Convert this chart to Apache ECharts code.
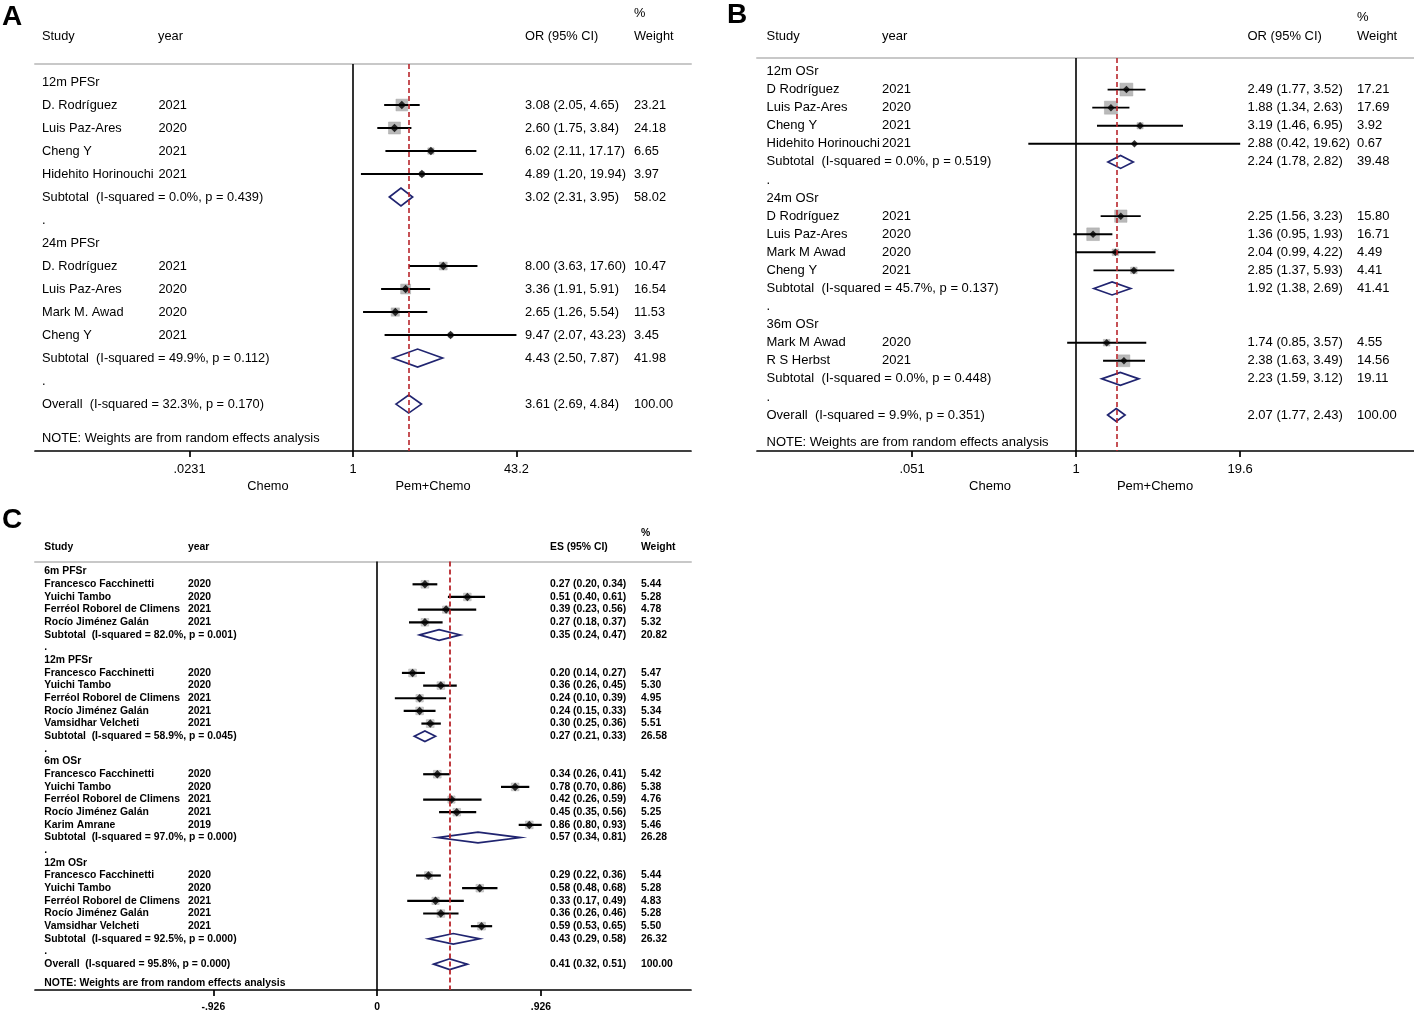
<!DOCTYPE html>
<html>
<head>
<meta charset="utf-8">
<title>Forest plots</title>
<script src="https://cdn.jsdelivr.net/npm/echarts@6.0.0/dist/echarts.min.js"></script>
<style>
  html, body { margin: 0; padding: 0; background: #fff; }
  #chart { width: 1414px; height: 1010px; }
</style>
</head>
<body>
<div id="chart"></div>
<script>
// ---------- panel A : PFS rate, OR ----------
var aGroups = ['12m PFSr', '24m PFSr'];
var aStudy = [['D. Rodríguez', 'Luis Paz-Ares', 'Cheng Y', 'Hidehito Horinouchi'],
              ['D. Rodríguez', 'Luis Paz-Ares', 'Mark M. Awad', 'Cheng Y']];
var aYear = [[2021, 2020, 2021, 2021], [2021, 2020, 2020, 2021]];
var aEst = [[3.08, 2.60, 6.02, 4.89], [8.00, 3.36, 2.65, 9.47]];
var aLow = [[2.05, 1.75, 2.11, 1.20], [3.63, 1.91, 1.26, 2.07]];
var aHigh = [[4.65, 3.84, 17.17, 19.94], [17.60, 5.91, 5.54, 43.23]];
var aWeight = [[23.21, 24.18, 6.65, 3.97], [10.47, 16.54, 11.53, 3.45]];
var aSubEst = [3.02, 4.43];
var aSubLow = [2.31, 2.50];
var aSubHigh = [3.95, 7.87];
var aSubWeight = [58.02, 41.98];
var aSubI2 = ['0.0%', '49.9%'];
var aSubP = ['0.439', '0.112'];
var aOverall = [3.61, 2.69, 4.84];
var aOverallHet = ['32.3%', '0.170'];
var aTicks = [0.0231, 1, 43.2];
var aTickLabels = ['.0231', '1', '43.2'];

// ---------- panel B : OS rate, OR ----------
var bGroups = ['12m OSr', '24m OSr', '36m OSr'];
var bStudy = [['D Rodríguez', 'Luis Paz-Ares', 'Cheng Y', 'Hidehito Horinouchi'],
              ['D Rodríguez', 'Luis Paz-Ares', 'Mark M Awad', 'Cheng Y'],
              ['Mark M Awad', 'R S Herbst']];
var bYear = [[2021, 2020, 2021, 2021], [2021, 2020, 2020, 2021], [2020, 2021]];
var bEst = [[2.49, 1.88, 3.19, 2.88], [2.25, 1.36, 2.04, 2.85], [1.74, 2.38]];
var bLow = [[1.77, 1.34, 1.46, 0.42], [1.56, 0.95, 0.99, 1.37], [0.85, 1.63]];
var bHigh = [[3.52, 2.63, 6.95, 19.62], [3.23, 1.93, 4.22, 5.93], [3.57, 3.49]];
var bWeight = [[17.21, 17.69, 3.92, 0.67], [15.80, 16.71, 4.49, 4.41], [4.55, 14.56]];
var bSubEst = [2.24, 1.92, 2.23];
var bSubLow = [1.78, 1.38, 1.59];
var bSubHigh = [2.82, 2.69, 3.12];
var bSubWeight = [39.48, 41.41, 19.11];
var bSubI2 = ['0.0%', '45.7%', '0.0%'];
var bSubP = ['0.519', '0.137', '0.448'];
var bOverall = [2.07, 1.77, 2.43];
var bOverallHet = ['9.9%', '0.351'];
var bTicks = [0.051, 1, 19.6];
var bTickLabels = ['.051', '1', '19.6'];

// ---------- panel C : single-arm rates, ES ----------
var cGroups = ['6m PFSr', '12m PFSr', '6m OSr', '12m OSr'];
var cStudy = [['Francesco Facchinetti', 'Yuichi Tambo', 'Ferréol Roborel de Climens', 'Rocío Jiménez Galán'],
              ['Francesco Facchinetti', 'Yuichi Tambo', 'Ferréol Roborel de Climens', 'Rocío Jiménez Galán', 'Vamsidhar Velcheti'],
              ['Francesco Facchinetti', 'Yuichi Tambo', 'Ferréol Roborel de Climens', 'Rocío Jiménez Galán', 'Karim Amrane'],
              ['Francesco Facchinetti', 'Yuichi Tambo', 'Ferréol Roborel de Climens', 'Rocío Jiménez Galán', 'Vamsidhar Velcheti']];
var cYear = [[2020, 2020, 2021, 2021], [2020, 2020, 2021, 2021, 2021],
             [2020, 2020, 2021, 2021, 2019], [2020, 2020, 2021, 2021, 2021]];
var cEst = [[0.27, 0.51, 0.39, 0.27], [0.20, 0.36, 0.24, 0.24, 0.30],
            [0.34, 0.78, 0.42, 0.45, 0.86], [0.29, 0.58, 0.33, 0.36, 0.59]];
var cLow = [[0.20, 0.40, 0.23, 0.18], [0.14, 0.26, 0.10, 0.15, 0.25],
            [0.26, 0.70, 0.26, 0.35, 0.80], [0.22, 0.48, 0.17, 0.26, 0.53]];
var cHigh = [[0.34, 0.61, 0.56, 0.37], [0.27, 0.45, 0.39, 0.33, 0.36],
             [0.41, 0.86, 0.59, 0.56, 0.93], [0.36, 0.68, 0.49, 0.46, 0.65]];
var cWeight = [[5.44, 5.28, 4.78, 5.32], [5.47, 5.30, 4.95, 5.34, 5.51],
               [5.42, 5.38, 4.76, 5.25, 5.46], [5.44, 5.28, 4.83, 5.28, 5.50]];
var cSubEst = [0.35, 0.27, 0.57, 0.43];
var cSubLow = [0.24, 0.21, 0.34, 0.29];
var cSubHigh = [0.47, 0.33, 0.81, 0.58];
var cSubWeight = [20.82, 26.58, 26.28, 26.32];
var cSubI2 = ['82.0%', '58.9%', '97.0%', '92.5%'];
var cSubP = ['0.001', '0.045', '0.000', '0.000'];
var cOverall = [0.41, 0.32, 0.51];
var cOverallHet = ['95.8%', '0.000'];
var cTicks = [-0.926, 0, 0.926];
var cTickLabels = ['-.926', '0', '.926'];

var FONT = "'Liberation Sans', Arial, Helvetica, sans-serif";
var NAVY = '#202470';
var RED = '#b8262c';

var panels = [
    {
        groups: aGroups, study: aStudy, year: aYear, est: aEst, low: aLow, high: aHigh, weight: aWeight,
        subEst: aSubEst, subLow: aSubLow, subHigh: aSubHigh, subWeight: aSubWeight, subI2: aSubI2, subP: aSubP,
        overall: aOverall, overallHet: aOverallHet, ticks: aTicks, tickLabels: aTickLabels,
        log: true, nullValue: 1,
        grid: {left: 35, top: 64, width: 656, height: 387},
        xRange: [-7.33, 7.79], yRange: [-0.783, 16.04],
        cols: [7, 123.5, 490, 599],
        font: 12.8, fontWeight: 'normal', box: 2.44, boxColor: '#b9b9b9', point: 8.5, ci: 1.9,
        diamond: 18, tickMargin: 12, ref: 1.6
    },
    {
        groups: bGroups, study: bStudy, year: bYear, est: bEst, low: bLow, high: bHigh, weight: bWeight,
        subEst: bSubEst, subLow: bSubLow, subHigh: bSubHigh, subWeight: bSubWeight, subI2: bSubI2, subP: bSubP,
        overall: bOverall, overallHet: bOverallHet, ticks: bTicks, tickLabels: bTickLabels,
        log: true, nullValue: 1,
        grid: {left: 757, top: 58, width: 657, height: 393},
        xRange: [-5.79, 6.13], yRange: [-0.747, 20.99],
        cols: [9.5, 125, 490.5, 600],
        font: 13, fontWeight: 'normal', box: 3.1, boxColor: '#b9b9b9', point: 7.5, ci: 1.9,
        diamond: 13, tickMargin: 12, ref: 1.6
    },
    {
        groups: cGroups, study: cStudy, year: cYear, est: cEst, low: cLow, high: cHigh, weight: cWeight,
        subEst: cSubEst, subLow: cSubLow, subHigh: cSubHigh, subWeight: cSubWeight, subI2: cSubI2, subP: cSubP,
        overall: cOverall, overallHet: cOverallHet, ticks: cTicks, tickLabels: cTickLabels,
        log: false, nullValue: 0,
        grid: {left: 35, top: 561.5, width: 656, height: 428.5},
        xRange: [-1.934, 1.774], yRange: [-0.80, 33.04],
        cols: [9.3, 153, 515, 606],
        font: 10.4, fontWeight: 'bold', box: 3.3, boxColor: '#d2d2d2', point: 8.5, ci: 2.2,
        diamond: 10.7, tickMargin: 12, ref: 1.8
    }
];

function buildRows(d) {
    var rows = [], y = 0;
    for (var g = 0; g < d.groups.length; g++) {
        rows.push({y: y++, kind: 'group', label: d.groups[g]});
        for (var i = 0; i < d.study[g].length; i++) {
            rows.push({y: y++, kind: 'study', label: d.study[g][i], year: d.year[g][i],
                est: d.est[g][i], low: d.low[g][i], high: d.high[g][i], w: d.weight[g][i]});
        }
        rows.push({y: y++, kind: 'sub', label: 'Subtotal  (I-squared = ' + d.subI2[g] + ', p = ' + d.subP[g] + ')',
            est: d.subEst[g], low: d.subLow[g], high: d.subHigh[g], w: d.subWeight[g]});
        rows.push({y: y++, kind: 'dot', label: '.'});
    }
    rows.push({y: y++, kind: 'sub', label: 'Overall  (I-squared = ' + d.overallHet[0] + ', p = ' + d.overallHet[1] + ')',
        est: d.overall[0], low: d.overall[1], high: d.overall[2], w: 100});
    rows.push({y: y + 0.5, kind: 'note', label: 'NOTE: Weights are from random effects analysis'});
    return rows;
}

function ciText(r) {
    return r.est.toFixed(2) + ' (' + r.low.toFixed(2) + ', ' + r.high.toFixed(2) + ')';
}

var grids = [], xAxes = [], yAxes = [], series = [];

panels.forEach(function (p, k) {
    var tf = p.log ? Math.log : function (v) { return v; };
    var rows = buildRows(p);
    var studies = rows.filter(function (r) { return r.kind === 'study'; });
    var pooled = rows.filter(function (r) { return r.kind === 'sub'; });
    var ticksT = p.ticks.map(tf);

    grids.push({left: p.grid.left, top: p.grid.top, width: p.grid.width, height: p.grid.height,
        containLabel: false, outerBoundsMode: 'none'});

    // bottom scale axis
    xAxes.push({
        gridIndex: k, type: 'value', position: 'bottom', min: p.xRange[0], max: p.xRange[1],
        axisLine: {show: true, onZero: false, lineStyle: {color: '#000', width: 1.7}},
        axisTick: {show: true, length: 6, customValues: ticksT, lineStyle: {color: '#000', width: 1.7}},
        axisLabel: {
            show: true, customValues: ticksT, margin: p.tickMargin, color: '#000',
            fontSize: p.font, fontFamily: FONT, fontWeight: p.fontWeight,
            formatter: function (v) {
                var best = 0;
                for (var i = 1; i < ticksT.length; i++) {
                    if (Math.abs(ticksT[i] - v) < Math.abs(ticksT[best] - v)) best = i;
                }
                return p.tickLabels[best];
            }
        },
        splitLine: {show: false}
    });
    // grey rule under the header
    xAxes.push({
        gridIndex: k, type: 'value', position: 'top', min: p.xRange[0], max: p.xRange[1],
        axisLine: {show: true, onZero: false, lineStyle: {color: '#c8c8c8', width: 2}},
        axisTick: {show: false}, axisLabel: {show: false}, splitLine: {show: false}
    });
    yAxes.push({gridIndex: k, type: 'value', inverse: true, min: p.yRange[0], max: p.yRange[1], show: false});

    var xi = 2 * k;

    // text columns
    series.push({
        type: 'custom', xAxisIndex: xi, yAxisIndex: k, silent: true, z: 6,
        data: rows.map(function (r) { return [0, r.y]; }),
        renderItem: function (params, api) {
            var r = rows[params.dataIndex];
            var cs = params.coordSys;
            var yy = api.coord([0, r.y])[1];
            var kids = [];
            function add(col, s) {
                kids.push({type: 'text', x: cs.x + p.cols[col], y: yy,
                    style: {text: s, fill: '#000', fontSize: p.font, fontFamily: FONT, fontWeight: p.fontWeight,
                        align: 'left', verticalAlign: 'middle'}});
            }
            add(0, r.label);
            if (r.kind === 'study') add(1, String(r.year));
            if (r.kind === 'study' || r.kind === 'sub') {
                add(2, ciText(r));
                add(3, r.w.toFixed(2));
            }
            return {type: 'group', children: kids};
        }
    });

    // weight boxes + confidence intervals
    series.push({
        type: 'custom', xAxisIndex: xi, yAxisIndex: k, silent: true, z: 3,
        data: studies.map(function (r) { return [tf(r.low), tf(r.est), tf(r.high), r.y, r.w]; }),
        encode: {x: [0, 1, 2], y: 3},
        renderItem: function (params, api) {
            var yv = api.value(3);
            var a = api.coord([api.value(0), yv]);
            var c = api.coord([api.value(1), yv]);
            var b = api.coord([api.value(2), yv]);
            var s = p.box * Math.sqrt(api.value(4));
            return {type: 'group', children: [
                {type: 'rect', shape: {x: c[0] - s / 2, y: c[1] - s / 2, width: s, height: s},
                    style: {fill: p.boxColor, stroke: '#a8a8a8', lineWidth: 0.5}},
                {type: 'line', shape: {x1: a[0], y1: a[1], x2: b[0], y2: b[1]},
                    style: {stroke: '#000', lineWidth: p.ci}}
            ]};
        }
    });

    // point estimates + reference lines
    series.push({
        type: 'scatter', xAxisIndex: xi, yAxisIndex: k, silent: true, z: 4,
        symbol: 'diamond', symbolSize: p.point, itemStyle: {color: '#000'},
        data: studies.map(function (r) { return [tf(r.est), r.y]; }),
        markLine: {
            silent: true, symbol: 'none', label: {show: false}, animation: false,
            data: [
                {xAxis: tf(p.nullValue), lineStyle: {color: '#000', width: 1.6, type: 'solid'}},
                {xAxis: tf(p.overall[0]), lineStyle: {color: RED, width: p.ref, type: [5, 3]}}
            ]
        }
    });

    // pooled diamonds
    series.push({
        type: 'custom', xAxisIndex: xi, yAxisIndex: k, silent: true, z: 4,
        data: pooled.map(function (r) { return [tf(r.low), tf(r.est), tf(r.high), r.y]; }),
        encode: {x: [0, 1, 2], y: 3},
        renderItem: function (params, api) {
            var yv = api.value(3);
            var a = api.coord([api.value(0), yv]);
            var c = api.coord([api.value(1), yv]);
            var b = api.coord([api.value(2), yv]);
            var h = p.diamond / 2;
            return {type: 'polygon',
                shape: {points: [[a[0], a[1]], [c[0], c[1] - h], [b[0], b[1]], [c[0], c[1] + h]]},
                style: {fill: 'rgba(0,0,0,0)', stroke: NAVY, lineWidth: 1.7}};
        }
    });
});

function txt(x, y, s, size, weight, align) {
    return {type: 'text', x: x, y: y, silent: true,
        style: {text: s, fill: '#000', fontSize: size, fontFamily: FONT, fontWeight: weight || 'normal',
            align: align || 'left', verticalAlign: 'middle'}};
}

var graphics = [
    txt(2, 17, 'A', 28, 'bold'),
    txt(727, 15, 'B', 28, 'bold'),
    txt(2, 520, 'C', 28, 'bold'),
    // panel A header
    txt(42, 36, 'Study', 12.8), txt(158, 36, 'year', 12.8), txt(525, 36, 'OR (95% CI)', 12.8),
    txt(634, 13, '%', 12.8), txt(634, 36, 'Weight', 12.8),
    txt(268, 486, 'Chemo', 12.8, 'normal', 'center'), txt(433, 486, 'Pem+Chemo', 12.8, 'normal', 'center'),
    // panel B header
    txt(766.5, 36, 'Study', 13), txt(882, 36, 'year', 13), txt(1247.5, 36, 'OR (95% CI)', 13),
    txt(1357, 17, '%', 13), txt(1357, 36, 'Weight', 13),
    txt(990, 486, 'Chemo', 13, 'normal', 'center'), txt(1155, 486, 'Pem+Chemo', 13, 'normal', 'center'),
    // panel C header
    txt(44.3, 547, 'Study', 10.4, 'bold'), txt(188, 547, 'year', 10.4, 'bold'), txt(550, 547, 'ES (95% CI)', 10.4, 'bold'),
    txt(641, 533, '%', 10.4, 'bold'), txt(641, 547, 'Weight', 10.4, 'bold')
];

var myChart = echarts.init(document.getElementById('chart'));
myChart.setOption({
    backgroundColor: '#fff',
    animation: false,
    grid: grids,
    xAxis: xAxes,
    yAxis: yAxes,
    graphic: graphics,
    series: series
});
</script>
</body>
</html>
